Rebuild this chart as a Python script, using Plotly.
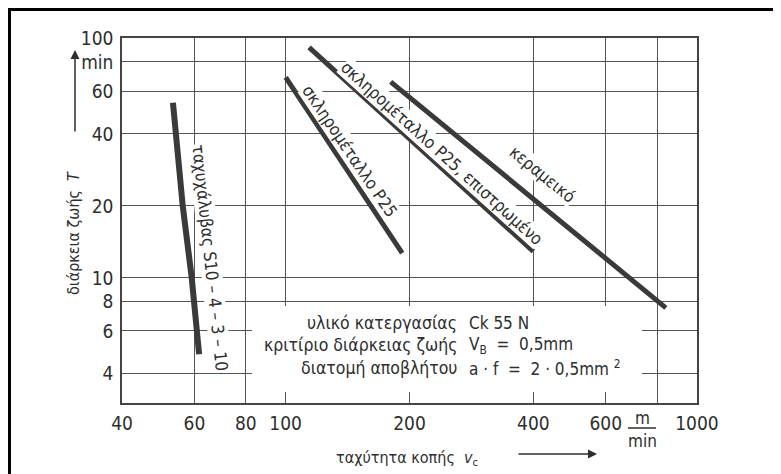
import numpy as np
import plotly.graph_objects as go

# ---- data ----
hss_v = [53.2, 56.2, 59.1, 61.6]
hss_T = [54, 20, 10, 4.8]
p25_v = [100, 192]
p25_T = [69, 12.7]
p25c_v = [114, 400]
p25c_T = [92, 12.9]
cer_v = [180, 840]
cer_T = [66, 7.5]

x_tickvals = [40, 60, 80, 100, 200, 400, 600, 800, 1000]
x_ticktext = ["40", "60", "80", "100", "200", "400", "600", "", "1000"]
y_tickvals = [4, 6, 8, 10, 20, 40, 60, 80, 100]
y_ticktext = ["4", "6", "8", "10", "20", "40", "60", "min", "100"]

labels = [
    ("ταχυχάλυβας S10 – 4 – 3 – 10", 65.5, 12.1, 84),
    ("σκληρομέταλλο P25", 143, 33.8, 56),
    ("σκληρομέταλλο P25, επιστρωμένο", 240, 33.4, 42),
    ("κεραμεικό", 420, 27.1, 39),
]

FONT = "DejaVu Sans Condensed, Liberation Sans Narrow, Liberation Sans, sans-serif"
INK = "#2e2e2e"
LINE = "#3a3a3a"

# page body has an 8px margin: the figure starts at page (8, 8)
OFF = 8
PL, PR, PT, PB = 122, 697, 38, 403  # plot area in page pixels


def px(xp):
    return (xp - PL) / (PR - PL)


def py(yp):
    return (PB - yp) / (PB - PT)


def note(xp, yp, text, size, xanchor="center", angle=0):
    fig.add_annotation(x=px(xp), y=py(yp), xref="paper", yref="paper", text=text,
                       showarrow=False, xanchor=xanchor, yanchor="middle",
                       textangle=angle, font=dict(family=FONT, size=size, color=INK))


fig = go.Figure()
for vv, tt, w in [(hss_v, hss_T, 6), (p25_v, p25_T, 5), (p25c_v, p25c_T, 5), (cer_v, cer_T, 5)]:
    fig.add_trace(go.Scatter(x=vv, y=tt, mode="lines",
                             line=dict(color=LINE, width=w), showlegend=False,
                             hoverinfo="skip"))

# curve labels
for txt, lx, ly, ang in labels:
    fig.add_annotation(x=np.log10(lx), y=np.log10(ly), xref="x", yref="y",
                       text=txt, showarrow=False, textangle=ang,
                       xanchor="center", yanchor="middle",
                       font=dict(family=FONT, size=17, color=INK),
                       bgcolor="white", borderpad=0)

# white area behind the info block (gridlines interrupted there)
fig.add_shape(type="rect", xref="paper", yref="paper",
              x0=px(252), x1=px(642), y0=py(392), y1=py(306),
              fillcolor="white", line=dict(width=0), layer="above")

left_col = ["υλικό κατεργασίας", "κριτίριο διάρκειας ζωής", "διατομή αποβλήτου"]
right_col = ["Ck 55 N", "V<sub>B</sub>  =  0,5mm", "a · f  =  2 · 0,5mm <sup>2</sup>"]
rows_y = [323, 345, 368]
for lt, rt, yy in zip(left_col, right_col, rows_y):
    note(459, yy, lt, 17.5, xanchor="right")
    note(467, yy, rt, 17, xanchor="left")

# axis titles with arrows
note(73, 233, "διάρκεια ζωής  <i>T</i>", 16, angle=-90)
fig.add_annotation(x=px(75), y=py(50), xref="paper", yref="paper", text="",
                   showarrow=True, ax=0, ay=83, arrowhead=2, arrowsize=1.2,
                   arrowwidth=1.5, arrowcolor=INK)
note(407, 458, "ταχύτητα κοπής  <i>v</i><sub>c</sub>", 16)
fig.add_annotation(x=px(597), y=py(454), xref="paper", yref="paper", text="",
                   showarrow=True, ax=-80, ay=0, arrowhead=2, arrowsize=1.2,
                   arrowwidth=1.5, arrowcolor=INK)

# unit m/min on x axis
note(642, 418, "m", 17)
note(642, 441, "min", 17)
fig.add_shape(type="line", xref="paper", yref="paper",
              x0=px(628), x1=px(656), y0=py(428), y1=py(428),
              line=dict(color=INK, width=1.5))

# outer frame (left and top edges)
fig.add_shape(type="line", xref="paper", yref="paper",
              x0=px(9.5), x1=px(9.5), y0=py(9.5), y1=py(480),
              line=dict(color="black", width=3))
fig.add_shape(type="line", xref="paper", yref="paper",
              x0=px(8), x1=px(790), y0=py(9.5), y1=py(9.5),
              line=dict(color="black", width=3))

axis_common = dict(type="log", showgrid=True, gridcolor="#555", gridwidth=1,
                   showline=True, linecolor="#444", linewidth=1.5, mirror=True,
                   ticks="", zeroline=False, automargin=False,
                   tickfont=dict(family=FONT, size=19, color=INK))

fig.update_xaxes(range=[np.log10(40), np.log10(1000)], tickvals=x_tickvals,
                 ticktext=x_ticktext, ticklabelstandoff=2, **axis_common)
fig.update_yaxes(range=[np.log10(3), 2.003], tickvals=y_tickvals,
                 ticktext=y_ticktext, ticklabelstandoff=3, **axis_common)

W, H = 781 - OFF, 474 - OFF
fig.update_layout(width=W, height=H,
                  margin=dict(l=PL - OFF, r=W - (PR - OFF), t=PT - OFF, b=H - (PB - OFF)),
                  plot_bgcolor="white", paper_bgcolor="white",
                  font=dict(family=FONT, color=INK))

fig.write_html("out.html")
